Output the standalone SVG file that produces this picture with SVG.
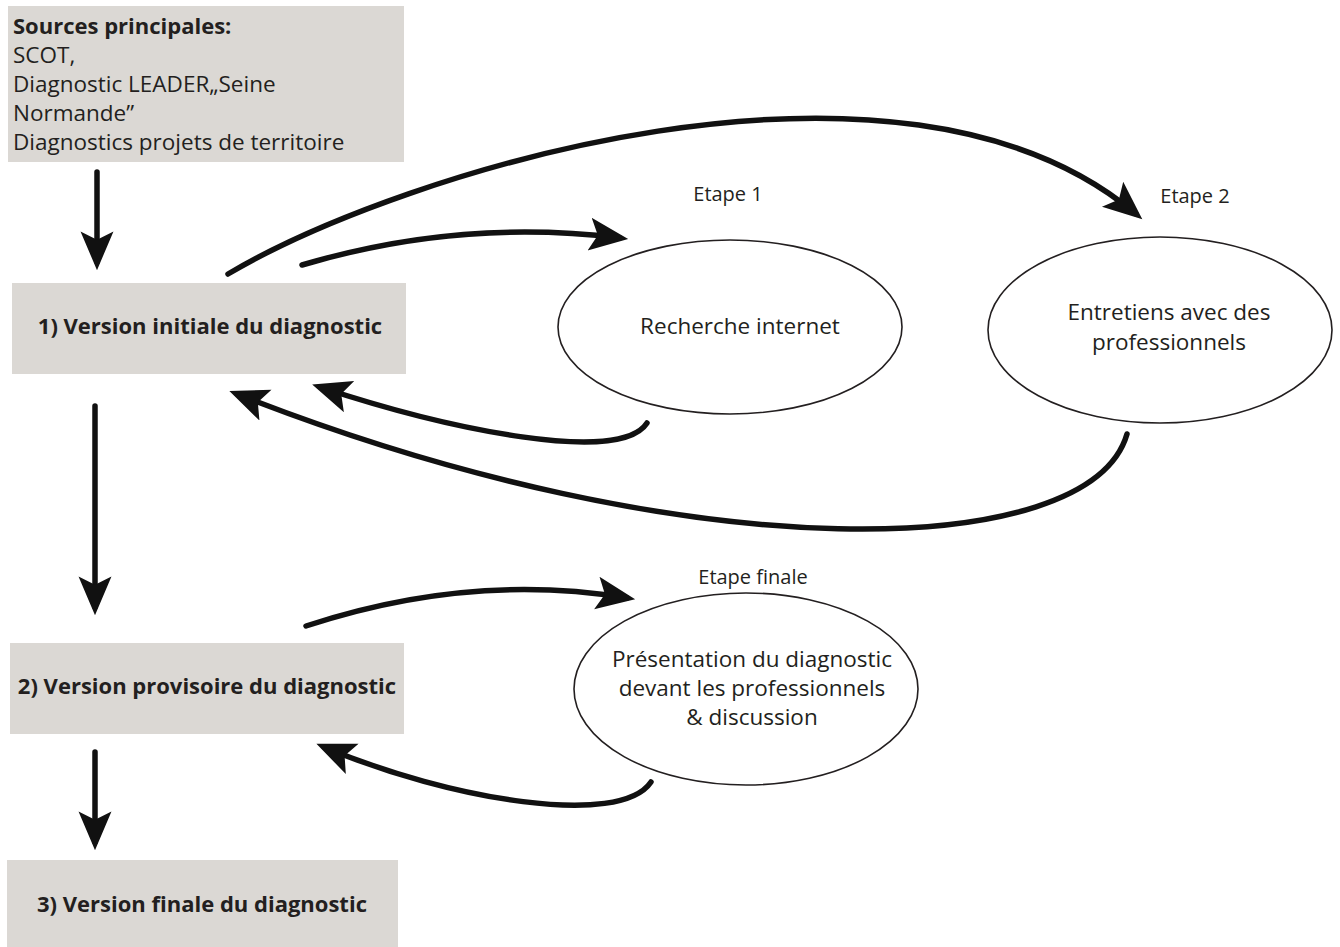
<svg xmlns="http://www.w3.org/2000/svg" width="1340" height="947" viewBox="0 0 1340 947">
<style>
.box{fill:#dbd8d4}
.t{font-family:"Open Sans","Noto Sans",sans-serif;font-size:22.5px;fill:#231f20}
.b{font-weight:bold;font-size:22px}
.s{font-size:20px}
.ell{fill:#fff;stroke:#231f20;stroke-width:1.6}
.c{fill:none;stroke:#111;stroke-width:5.5;stroke-linecap:round}
</style>
<defs>
<marker id="ah" markerUnits="userSpaceOnUse" markerWidth="40" markerHeight="40" viewBox="0 0 34 30" refX="26" refY="15" orient="auto">
<path d="M0,1 L33,15 L0,29 L7,15 Z" fill="#111"/>
</marker>
</defs>
<rect width="1340" height="947" fill="#fff"/>
<g id="sources">
<rect class="box" x="8" y="6" width="396" height="156"/>
<text class="t b" x="13" y="34">Sources principales:</text>
<text class="t" x="13" y="63">SCOT,</text>
<text class="t" x="13" y="92">Diagnostic LEADER„Seine</text>
<text class="t" x="13" y="121">Normande”</text>
<text class="t" x="13" y="150">Diagnostics projets de territoire</text>
</g>
<g id="v1">
<rect class="box" x="12" y="283" width="394" height="91"/>
<text class="t b" x="210" y="334" text-anchor="middle">1) Version initiale du diagnostic</text>
</g>
<g id="v2">
<rect class="box" x="10" y="643" width="394" height="91"/>
<text class="t b" x="207" y="694" text-anchor="middle">2) Version provisoire du diagnostic</text>
</g>
<g id="v3">
<rect class="box" x="7" y="860" width="391" height="87"/>
<text class="t b" x="202" y="912" text-anchor="middle">3) Version finale du diagnostic</text>
</g>
<g id="etape1">
<ellipse class="ell" cx="730" cy="327" rx="172" ry="87"/>
<text class="t" x="740" y="334" text-anchor="middle">Recherche internet</text>
<text class="t s" x="728" y="201" text-anchor="middle">Etape 1</text>
</g>
<g id="etape2">
<ellipse class="ell" cx="1160" cy="330" rx="172" ry="93"/>
<text class="t" x="1169" y="320" text-anchor="middle">Entretiens avec des</text>
<text class="t" x="1169" y="350" text-anchor="middle">professionnels</text>
<text class="t s" x="1195" y="203" text-anchor="middle">Etape 2</text>
</g>
<g id="etapefinale">
<ellipse class="ell" cx="746" cy="689" rx="172" ry="96"/>
<text class="t" x="752" y="667" text-anchor="middle">Présentation du diagnostic</text>
<text class="t" x="752" y="696" text-anchor="middle">devant les professionnels</text>
<text class="t" x="752" y="725" text-anchor="middle">&amp; discussion</text>
<text class="t s" x="753" y="584" text-anchor="middle">Etape finale</text>
</g>
<g id="connectors">
<path class="c" d="M97,172 L97,262" marker-end="url(#ah)"/>
<path class="c" d="M95,406 L95,607" marker-end="url(#ah)"/>
<path class="c" d="M95,752 L95,842" marker-end="url(#ah)"/>
<path class="c" d="M302,265 Q460,218 620,238" marker-end="url(#ah)"/>
<path class="c" d="M228,274 C400,172 900,15 1136,214" marker-end="url(#ah)"/>
<path class="c" d="M647,423 C620,465 450,430 320,387" marker-end="url(#ah)"/>
<path class="c" d="M1127,434 C1090,562 690,572 237,394" marker-end="url(#ah)"/>
<path class="c" d="M306,626 Q470,572 627,598" marker-end="url(#ah)"/>
<path class="c" d="M651,782 C620,828 450,800 324,747" marker-end="url(#ah)"/>
</g>
</svg>
